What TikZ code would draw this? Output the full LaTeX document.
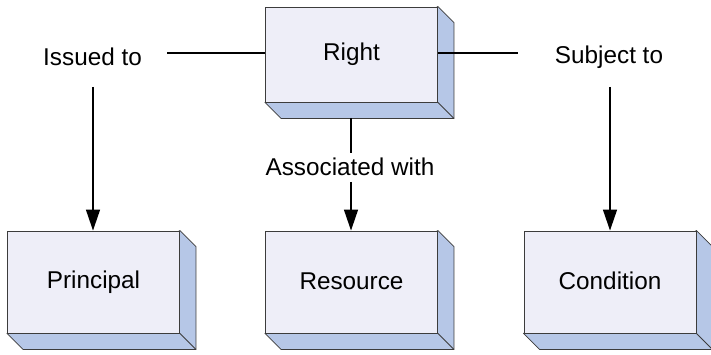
\documentclass[tikz,border=0pt]{standalone}
\usepackage{fontspec}
\setmainfont{Liberation Sans}
\usetikzlibrary{arrows.meta,backgrounds,calc}
\definecolor{frontcol}{RGB}{238,238,248}
\definecolor{depthcol}{RGB}{182,199,231}
\definecolor{edgecol}{RGB}{60,60,60}
\tikzset{
  box/.style={draw=edgecol,line width=0.9pt,fill=frontcol,rectangle,minimum width=172pt,inner sep=0pt,font=\fontsize{24.3}{28}\selectfont},
  lbl/.style={inner sep=1pt,font=\fontsize{24.3}{28}\selectfont},
  conn/.style={line width=1.4pt,black},
  arr/.style={conn,-{Triangle[length=21pt,width=14pt]}},
  depth/.style={fill=depthcol,draw=edgecol,line width=0.8pt,line join=miter}
}
\newcommand{\boxdepth}[1]{%
  \filldraw[depth] (#1.north east) -- ++(16,16) -- ($(#1.south east)+(16,16)$) -- ($(#1.south west)+(16,16)$) -- (#1.south west) -- cycle;
  \draw[edgecol,line width=0.8pt] (#1.south east) -- ++(16,16);}
\begin{document}
\begin{tikzpicture}[x=1pt,y=-1pt]
\useasboundingbox (0,0) rectangle (711,355);
\node[box,minimum height=95pt] (right) at (351.5,54.5) {\raisebox{2pt}{Right}};
\node[box,minimum height=102pt] (principal) at (93.5,282) {\raisebox{2pt}{Principal}};
\node[box,minimum height=102pt] (resource) at (351.5,282) {\raisebox{2pt}{Resource}};
\node[box,minimum height=102pt] (condition) at (610,282) {\raisebox{2pt}{Condition}};
\begin{scope}[on background layer]
\boxdepth{right}
\boxdepth{principal}
\boxdepth{resource}
\boxdepth{condition}
\end{scope}
\node[lbl] (issued) at (92.5,57) {Issued to};
\node[lbl] (subject) at (609,57) {Subject to};
\node[lbl] (assoc) at (350,167) {Associated with};
\coordinate (l1) at (167,53);
\coordinate (r1) at (518,53);
\draw[conn] (l1) -- (right.west |- l1);
\draw[conn] (right.east |- r1) -- (r1);
\coordinate (pa) at (93,87);
\draw[arr] (pa) -- (principal.north -| pa);
\coordinate (ca) at (610,87);
\draw[arr] (ca) -- (condition.north -| ca);
\coordinate (rb) at (351,118);
\coordinate (rc) at (351,153);
\coordinate (ra) at (351,182);
\draw[conn] (rb) -- (rc);
\draw[arr] (ra) -- (resource.north -| ra);
\end{tikzpicture}
\end{document}
